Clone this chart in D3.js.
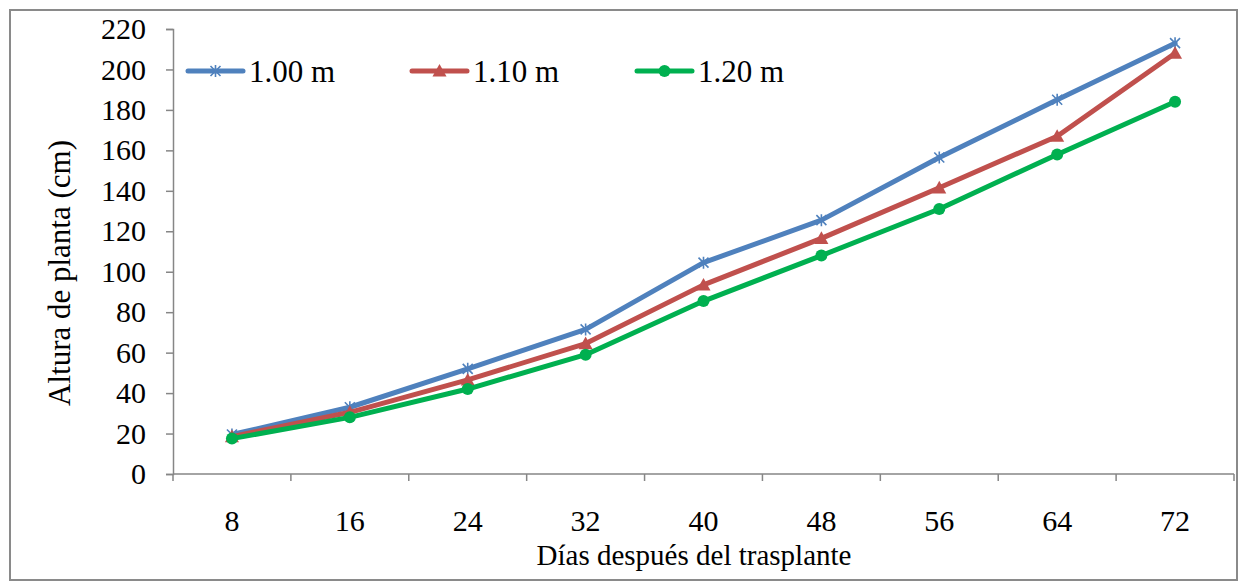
<!DOCTYPE html>
<html>
<head>
<meta charset="utf-8">
<script src="https://cdn.jsdelivr.net/npm/d3@7"></script>
<style>
  html, body { margin: 0; padding: 0; background: #fff; }
  svg { display: block; }
</style>
</head>
<body>
<svg id="chart" width="1239" height="581"></svg>
<script>
// Days after transplanting (categories)
const days = ["8", "16", "24", "32", "40", "48", "56", "64", "72"];

// Plant height (cm) for each row spacing
const spacing100 = [19.5, 33, 52, 71.5, 104.5, 125.5, 156.5, 185, 213];
const spacing110 = [18.5, 30.5, 46.5, 64.5, 93.5, 116.5, 141.5, 167, 208];
const spacing120 = [17.5, 28, 42, 59, 85.5, 108, 131, 158, 184];

const yTicks = [0, 20, 40, 60, 80, 100, 120, 140, 160, 180, 200, 220];

const seriesNames = ["1.00 m", "1.10 m", "1.20 m"];
const seriesValues = [spacing100, spacing110, spacing120];
const seriesColors = ["#4F81BD", "#C0504D", "#00B050"];
const seriesMarkers = ["star", "triangle", "circle"];

const FONT = "Liberation Serif, Times New Roman, serif";

const svg = d3.select("#chart");
const plot = { left: 173, right: 1234, top: 29, bottom: 474 };
const axisColor = "#868686";

// outer chart frame
svg.append("rect")
  .attr("x", 10).attr("y", 10)
  .attr("width", 1227).attr("height", 570)
  .attr("fill", "none")
  .attr("stroke", "#8a8a8a")
  .attr("stroke-width", 2);

const x = d3.scaleBand().domain(days).range([plot.left, plot.right]).padding(0);
const y = d3.scaleLinear().domain([0, 220]).range([plot.bottom, plot.top]);
const cx = d => x(d) + x.bandwidth() / 2;

// y axis
const yAxis = svg.append("g")
  .attr("transform", `translate(${plot.left},0)`)
  .call(d3.axisLeft(y).tickValues(yTicks).tickSize(7).tickPadding(20).tickFormat(d3.format("d")))
  .attr("font-family", FONT)
  .attr("font-size", 30);
yAxis.select(".domain").attr("stroke", axisColor).attr("stroke-width", 1.5);
yAxis.selectAll(".tick line").attr("stroke", axisColor).attr("stroke-width", 1.5);
yAxis.selectAll(".tick text")
  .attr("font-family", FONT)
  .attr("font-size", 30)
  .attr("fill", "#000");

// x axis: line, boundary ticks and centred labels
const xg = svg.append("g").attr("font-family", FONT);
xg.append("line")
  .attr("x1", plot.left).attr("x2", plot.right)
  .attr("y1", plot.bottom).attr("y2", plot.bottom)
  .attr("stroke", axisColor).attr("stroke-width", 1.5);
const bounds = days.map(d => x(d)).concat([x(days[days.length - 1]) + x.bandwidth()]);
xg.selectAll("line.tk").data(bounds).enter().append("line")
  .attr("class", "tk")
  .attr("x1", d => d).attr("x2", d => d)
  .attr("y1", plot.bottom).attr("y2", plot.bottom + 7)
  .attr("stroke", axisColor).attr("stroke-width", 1.5);
xg.selectAll("text").data(days).enter().append("text")
  .attr("x", d => cx(d))
  .attr("y", 531)
  .attr("text-anchor", "middle")
  .attr("font-family", FONT)
  .attr("font-size", 30)
  .text(d => d);

// axis titles
svg.append("text")
  .attr("x", 694).attr("y", 565)
  .attr("text-anchor", "middle")
  .attr("font-family", FONT)
  .attr("font-size", 29)
  .text("Días después del trasplante");
svg.append("text")
  .attr("transform", "translate(70,273) rotate(-90)")
  .attr("text-anchor", "middle")
  .attr("font-family", FONT)
  .attr("font-size", 31)
  .text("Altura de planta (cm)");

// marker drawing
function drawMarker(g, type, color, px, py) {
  if (type === "circle") {
    g.append("circle").attr("cx", px).attr("cy", py).attr("r", 6).attr("fill", color);
  } else if (type === "triangle") {
    const s = 7;
    g.append("path")
      .attr("d", `M${px},${py - s} L${px + s},${py + s * 0.8} L${px - s},${py + s * 0.8} Z`)
      .attr("fill", color);
  } else {
    const s = 5;
    g.append("path")
      .attr("d", `M${px - s},${py - s} L${px + s},${py + s} M${px - s},${py + s} L${px + s},${py - s} M${px},${py - s - 1} L${px},${py + s + 1}`)
      .attr("stroke", color).attr("stroke-width", 1.6).attr("fill", "none");
  }
}

// series lines
const line = d3.line().x((d, i) => cx(days[i])).y(d => y(d));
seriesValues.forEach((vals, k) => {
  const g = svg.append("g");
  g.append("path")
    .attr("d", line(vals))
    .attr("fill", "none")
    .attr("stroke", seriesColors[k])
    .attr("stroke-width", 5)
    .attr("stroke-linejoin", "round")
    .attr("stroke-linecap", "round");
  vals.forEach((v, i) => drawMarker(g, seriesMarkers[k], seriesColors[k], cx(days[i]), y(v)));
});

// legend
const legendX = [188, 412, 637];
const legendY = 71;
seriesNames.forEach((name, k) => {
  const g = svg.append("g");
  const x0 = legendX[k], x1 = x0 + 55;
  g.append("line")
    .attr("x1", x0).attr("x2", x1)
    .attr("y1", legendY).attr("y2", legendY)
    .attr("stroke", seriesColors[k]).attr("stroke-width", 5)
    .attr("stroke-linecap", "round");
  drawMarker(g, seriesMarkers[k], seriesColors[k], (x0 + x1) / 2, legendY);
  g.append("text")
    .attr("x", x1 + 6).attr("y", legendY + 11)
    .attr("font-family", FONT)
    .attr("font-size", 31)
    .text(name);
});
</script>
</body>
</html>
